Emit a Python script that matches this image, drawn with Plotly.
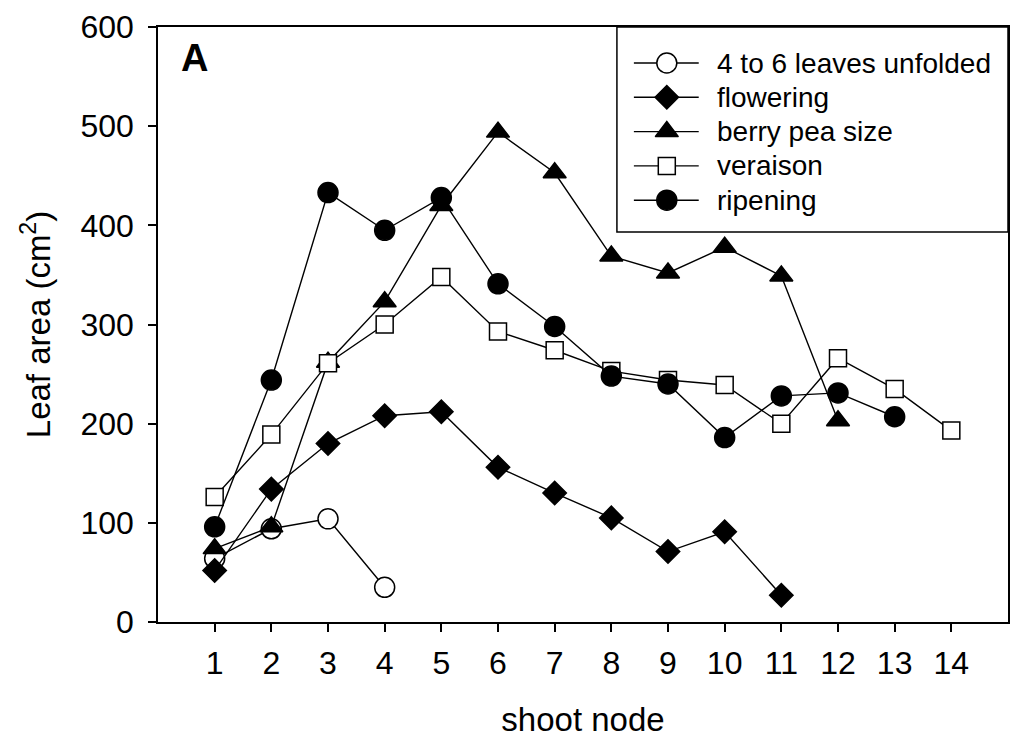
import plotly.graph_objects as go

# ---- data ----
nodes = list(range(1, 15))
leaves_unfolded = [64, 94, 104, 35]
flowering = [52, 134, 180, 208, 212, 156, 130, 105, 71, 91, 27]
berry_pea = [74, 96, 262, 323, 420, 494, 453, 369, 352, 378, 349, 203]
veraison = [126, 189, 261, 300, 348, 293, 274, 253, 244, 239, 200, 266, 235, 193]
ripening = [96, 244, 433, 395, 428, 341, 298, 248, 240, 186, 228, 231, 207]

series_names = ["4 to 6 leaves unfolded", "flowering", "berry pea size", "veraison", "ripening"]
series_values = [leaves_unfolded, flowering, berry_pea, veraison, ripening]
x_ticks = nodes
y_ticks = [0, 100, 200, 300, 400, 500, 600]

FONT = "Arial, Liberation Sans, sans-serif"
styles = [
    dict(symbol="circle", size=20, color="white"),
    dict(symbol="diamond", size=18, color="black"),
    dict(symbol="triangle-up", size=20, color="black"),
    dict(symbol="square", size=17, color="white"),
    dict(symbol="circle", size=20, color="black"),
]

W, H = 1011, 738
L, R, T, B = 158, 1, 27, 116
pw, ph = W - L - R, H - T - B

def px_x(p):
    return (p - L) / pw

def px_y(p):
    return (H - B - p) / ph

fig = go.Figure()
for name, vals, st in zip(series_names, series_values, styles):
    fig.add_trace(go.Scatter(
        x=nodes[:len(vals)], y=vals, name=name, mode="lines+markers",
        line=dict(color="black", width=1.4),
        marker=dict(symbol=st["symbol"], size=st["size"], color=st["color"],
                    line=dict(color="black", width=1.5)),
        cliponaxis=False, showlegend=False,
    ))

# ---- legend (keys drawn on an overlay axis in paper-like units) ----
row0, row_gap = 63, 34.3
key_x0, key_x1, key_mid, text_x = 635, 700, 668, 716
for i, (name, st) in enumerate(zip(series_names, styles)):
    yy = px_y(row0 + row_gap * i)
    fig.add_trace(go.Scatter(
        x=[px_x(key_x0), px_x(key_x1)], y=[yy, yy], mode="lines",
        line=dict(color="black", width=1.4), xaxis="x2", yaxis="y2",
        showlegend=False, hoverinfo="skip", cliponaxis=False,
    ))
    fig.add_trace(go.Scatter(
        x=[px_x(key_mid)], y=[yy], mode="markers", name=name,
        marker=dict(symbol=st["symbol"], size=st["size"], color=st["color"],
                    line=dict(color="black", width=1.5)),
        xaxis="x2", yaxis="y2", showlegend=False, hoverinfo="skip", cliponaxis=False,
    ))
    fig.add_annotation(text=name, xref="paper", yref="paper",
                       x=px_x(text_x), y=yy, xanchor="left", yanchor="middle",
                       showarrow=False, font=dict(family=FONT, size=28, color="black"))

fig.add_shape(type="rect", xref="paper", yref="paper",
              x0=px_x(618), x1=1, y0=px_y(232), y1=1,
              line=dict(color="black", width=1.5), fillcolor="rgba(0,0,0,0)")

fig.add_annotation(text="<b>A</b>", xref="paper", yref="paper",
                   x=px_x(179), y=px_y(58), xanchor="left", yanchor="middle",
                   showarrow=False, font=dict(family=FONT, size=38, color="black"))

fig.update_layout(
    width=W, height=H,
    margin=dict(l=L, r=R, t=T, b=B),
    paper_bgcolor="white", plot_bgcolor="white",
    font=dict(family=FONT, color="black"),
    showlegend=False,
    xaxis=dict(range=[0, 15], tickmode="array", tickvals=x_ticks,
               ticks="outside", ticklen=8, tickwidth=1.5, tickcolor="black",
               showline=True, linecolor="black", linewidth=1.5, mirror=True,
               showgrid=False, zeroline=False, ticklabelstandoff=4,
               tickfont=dict(family=FONT, size=32, color="black"),
               title=dict(text="shoot node", font=dict(family=FONT, size=33, color="black"),
                          standoff=32)),
    yaxis=dict(range=[0, 600], tickmode="array", tickvals=y_ticks,
               ticks="outside", ticklen=8, tickwidth=1.5, tickcolor="black",
               showline=True, linecolor="black", linewidth=1.5, mirror=True,
               showgrid=False, zeroline=False, ticklabelstandoff=8,
               tickfont=dict(family=FONT, size=32, color="black"),
               title=dict(text="Leaf area (cm<sup>2</sup>)",
                          font=dict(family=FONT, size=33, color="black"),
                          standoff=20)),
    xaxis2=dict(overlaying="x", range=[0, 1], visible=False, fixedrange=True),
    yaxis2=dict(overlaying="y", range=[0, 1], visible=False, fixedrange=True),
)

fig.write_html("out.html")
